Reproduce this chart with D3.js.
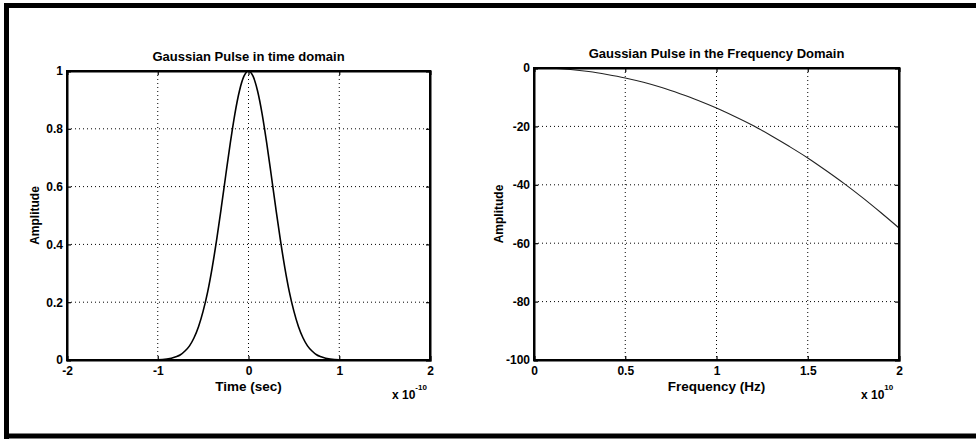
<!DOCTYPE html>
<html>
<head>
<meta charset="utf-8">
<script src="https://cdn.jsdelivr.net/npm/d3@7"></script>
<style>
  body { margin: 0; background: #fff; }
  text { font-family: "Liberation Sans", Arial, sans-serif; font-weight: bold; fill: #000; }
</style>
</head>
<body>
<div id="chart"></div>
<script>
// time domain pulse (time in units of 1e-10 s)
var timeVals = [-2, -1.5, -1, -0.9, -0.8, -0.75, -0.7, -0.65, -0.6, -0.55, -0.5, -0.45, -0.4, -0.35, -0.3, -0.25, -0.2, -0.15, -0.1, -0.05, 0,
                0.05, 0.1, 0.15, 0.2, 0.25, 0.3, 0.35, 0.4, 0.45, 0.5, 0.55, 0.6, 0.65, 0.7, 0.75, 0.8, 0.9, 1, 1.5, 2];
var timeAmp = [0, 0, 0.001, 0.003, 0.011, 0.018, 0.031, 0.049, 0.077, 0.116, 0.169, 0.236, 0.32, 0.418, 0.527, 0.641, 0.752, 0.852, 0.931, 0.982, 1,
               0.982, 0.931, 0.852, 0.752, 0.641, 0.527, 0.418, 0.32, 0.236, 0.169, 0.116, 0.077, 0.049, 0.031, 0.018, 0.011, 0.003, 0.001, 0, 0];

// frequency domain (frequency in units of 1e10 Hz, amplitude in dB)
var freqVals = [0, 0.1, 0.2, 0.3, 0.4, 0.5, 0.6, 0.7, 0.8, 0.9, 1, 1.1, 1.2, 1.3, 1.4, 1.5, 1.6, 1.7, 1.8, 1.9, 2];
var freqAmp = [0, -0.1, -0.5, -1.2, -2.2, -3.4, -4.9, -6.7, -8.8, -11.1, -13.7, -16.6, -19.7, -23.2, -26.9, -30.8, -35.1, -39.6, -44.4, -49.5, -54.8];

var timeTicks = [-2, -1, 0, 1, 2];
var timeAmpTicks = [0, 0.2, 0.4, 0.6, 0.8, 1];
var freqTicks = [0, 0.5, 1, 1.5, 2];
var freqAmpTicks = [-100, -80, -60, -40, -20, 0];

var W = 976, H = 439;

var svg = d3.select("#chart")
  .append("svg")
    .attr("width", W)
    .attr("height", H);

// scanned page frame
svg.append("rect").attr("x", 0).attr("y", 0).attr("width", W).attr("height", H).attr("fill", "#fff");
svg.append("line").attr("x1", 4).attr("x2", W).attr("y1", 5.5).attr("y2", 5.5).attr("stroke", "#000").attr("stroke-width", 5);
svg.append("line").attr("x1", 6.5).attr("x2", 6.5).attr("y1", 3).attr("y2", H).attr("stroke", "#000").attr("stroke-width", 5);
svg.append("line").attr("x1", 4).attr("x2", W).attr("y1", 436).attr("y2", 436).attr("stroke", "#000").attr("stroke-width", 5);

function fmt(d){ return String(d); }

function plot(opts){
  var x = d3.scaleLinear().domain(opts.xdom).range(opts.xr);
  var y = d3.scaleLinear().domain(opts.ydom).range(opts.yr);
  var g = svg.append("g");

  // dotted grid
  g.selectAll(".vgrid")
    .data(opts.xticks.slice(1, -1))
    .enter().append("line")
      .attr("x1", function(d){ return x(d) })
      .attr("x2", function(d){ return x(d) })
      .attr("y1", opts.yr[1])
      .attr("y2", opts.yr[0])
      .attr("stroke", "#000")
      .attr("stroke-width", 1)
      .attr("stroke-dasharray", "1,3");
  g.selectAll(".hgrid")
    .data(opts.yticks.slice(1, -1))
    .enter().append("line")
      .attr("x1", opts.xr[0])
      .attr("x2", opts.xr[1])
      .attr("y1", function(d){ return y(d) })
      .attr("y2", function(d){ return y(d) })
      .attr("stroke", "#000")
      .attr("stroke-width", 1)
      .attr("stroke-dasharray", "1,3");

  // curve
  var pts = opts.xs.map(function(v, i){ return [v, opts.ys[i]] });
  g.append("path")
    .datum(pts)
    .attr("fill", "none")
    .attr("stroke", opts.color)
    .attr("stroke-width", opts.lw)
    .attr("d", d3.line()
      .curve(d3.curveMonotoneX)
      .x(function(d){ return x(d[0]) })
      .y(function(d){ return y(d[1]) }));

  // axes, ticks inward
  g.append("g")
    .attr("transform", "translate(0," + opts.yr[0] + ")")
    .call(d3.axisBottom(x).tickValues(opts.xticks).tickSize(-4).tickPadding(6).tickFormat(fmt));
  g.append("g")
    .attr("transform", "translate(" + opts.xr[0] + ",0)")
    .call(d3.axisLeft(y).tickValues(opts.yticks).tickSize(-4).tickPadding(4).tickFormat(fmt));
  g.append("g")
    .attr("transform", "translate(0," + opts.yr[1] + ")")
    .call(d3.axisTop(x).tickValues(opts.xticks).tickSize(-4).tickFormat(""));
  g.append("g")
    .attr("transform", "translate(" + opts.xr[1] + ",0)")
    .call(d3.axisRight(y).tickValues(opts.yticks).tickSize(-4).tickFormat(""));

  g.selectAll(".domain").attr("stroke", "#000").attr("stroke-width", 2);
  g.selectAll(".tick line").attr("stroke", "#000").attr("stroke-width", 1.2);
  g.selectAll(".tick text")
    .style("font-family", "'Liberation Sans', Arial, sans-serif")
    .style("font-weight", "bold")
    .style("font-size", "12px")
    .attr("fill", "#000");

  // box
  g.append("rect")
    .attr("x", opts.xr[0]).attr("y", opts.yr[1])
    .attr("width", opts.xr[1] - opts.xr[0])
    .attr("height", opts.yr[0] - opts.yr[1])
    .attr("fill", "none")
    .attr("stroke", "#000")
    .attr("stroke-width", 2);

  var mid = (opts.xr[0] + opts.xr[1]) / 2;
  g.append("text")
    .attr("x", mid).attr("y", opts.yr[1] - 10)
    .attr("text-anchor", "middle")
    .style("font-size", "13px")
    .text(opts.title);
  g.append("text")
    .attr("x", mid).attr("y", 391)
    .attr("text-anchor", "middle")
    .style("font-size", "13.5px")
    .text(opts.xlabel);
  g.append("text")
    .attr("transform", "translate(" + opts.ylabX + "," + ((opts.yr[0] + opts.yr[1]) / 2) + ") rotate(-90)")
    .attr("text-anchor", "middle")
    .style("font-size", "12px")
    .text("Amplitude");

  var mult = g.append("text")
    .attr("x", opts.xr[1] - 38).attr("y", 399)
    .style("font-size", "12px");
  mult.append("tspan").text("x 10");
  mult.append("tspan").attr("dy", -9).style("font-size", "8px").text(opts.exp);
}

plot({
  xs: timeVals, ys: timeAmp,
  xdom: [-2, 2], ydom: [0, 1],
  xr: [67, 430], yr: [360, 71],
  xticks: timeTicks, yticks: timeAmpTicks,
  color: "#000", lw: 1.6,
  title: "Gaussian Pulse in time domain",
  xlabel: "Time (sec)",
  ylabX: 39,
  exp: "-10"
});

plot({
  xs: freqVals, ys: freqAmp,
  xdom: [0, 2], ydom: [-100, 0],
  xr: [534, 899], yr: [360, 68],
  xticks: freqTicks, yticks: freqAmpTicks,
  color: "#222", lw: 1.1,
  title: "Gaussian Pulse in the Frequency Domain",
  xlabel: "Frequency (Hz)",
  ylabX: 503,
  exp: "10"
});
</script>
</body>
</html>
